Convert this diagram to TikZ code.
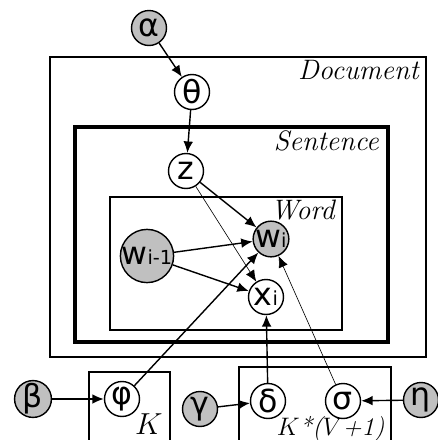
\documentclass[tikz,border=0pt]{standalone}
\usepackage{fontspec}
\newfontfamily\varfont{DejaVu Sans}
\usetikzlibrary{arrows.meta}
\definecolor{obsGray}{HTML}{C0C0C0}

\begin{document}
\begin{tikzpicture}[x=0.02cm, y=-0.02cm,
	var/.style={circle, draw, line width=0.8pt, fill=white, minimum size=0.7cm,
		inner sep=0pt, font=\varfont\fontsize{18}{19}\selectfont},
	obs/.style={var, fill=obsGray},
	edge/.style={-{Latex[length=6.5pt, width=5.5pt]}, line width=0.8pt},
	thinedge/.style={edge, line width=0.35pt},
	plate/.style={draw, line width=0.8pt},
	platelabel/.style={font=\itshape\fontsize{16}{18}\selectfont, anchor=base east, inner sep=0pt}]
	\useasboundingbox (0,0) rectangle (438,440);
	\clip (0,0) rectangle (438,440);

	% plates
	\draw[plate] (50,57) rectangle (426,357);
	\draw[plate, line width=2.2pt] (75,127) rectangle (388,342);
	\draw[plate] (110,197) rectangle (342,330);
	\draw[plate] (89,372) rectangle (170,450);
	\draw[plate] (239,367) rectangle (391,450);
	\node[platelabel] (docLbl) at (419,79) {Document};
	\node[platelabel] (senLbl) at (379,150) {Sentence};
	\node[platelabel] (wordLbl) at (335,219) {Word};
	\node[platelabel] (kLbl) at (163,434) {$K$};
	\node[platelabel, font=\itshape\fontsize{14.5}{16}\selectfont] (kvLbl) at (385,435) {$K$*($V$+1)};

	% variables
	\node[obs] (alpha) at (149,28) {α};
	\node[var] (theta) at (192,92) {θ};
	\node[var] (z) at (186,171) {z};
	\node[obs] (wi) at (271,239) {w{\fontsize{11}{11}\selectfont i}};
	\node[obs, minimum size=0.78cm] (wprev) at (147,256) {w{\fontsize{11}{11}\selectfont i-1}};
	\node[var] (xi) at (266,297) {x{\fontsize{11}{11}\selectfont i}};
	\node[obs] (beta) at (33,399) {β};
	\node[var] (phi) at (122,399) {φ};
	\node[obs] (gamma) at (200,409) {γ};
	\node[var] (delta) at (268,401) {δ};
	\node[var] (sigma) at (343,401) {σ};
	\node[obs] (eta) at (421,400) {η};

	% dependencies
	\draw[edge] (alpha) -- (theta);
	\draw[edge] (theta) -- (z);
	\draw[edge] (z) -- (wi);
	\draw[thinedge] (z) -- (xi);
	\draw[edge] (wprev) -- (wi);
	\draw[edge] (wprev) -- (xi);
	\draw[edge] (phi) -- (wi);
	\draw[thinedge] (sigma) -- (wi);
	\draw[edge] (delta) -- (xi);
	\draw[edge] (beta) -- (phi);
	\draw[edge] (gamma) -- (delta);
	\draw[edge] (eta) -- (sigma);
\end{tikzpicture}
\end{document}
